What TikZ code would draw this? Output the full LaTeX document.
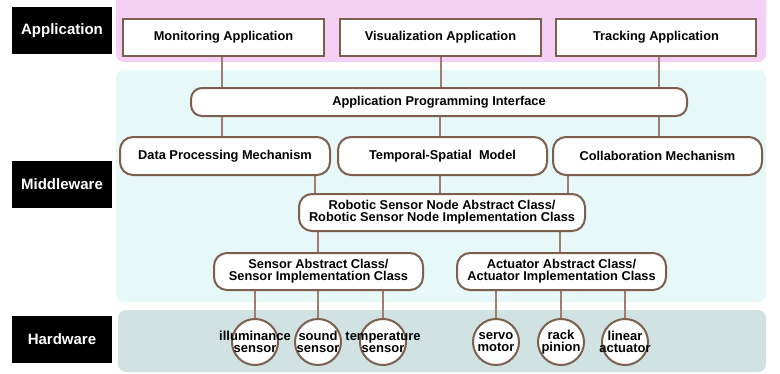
\documentclass[tikz,border=0pt]{standalone}
\usepackage{fontspec}
\setmainfont{Liberation Sans}
\usetikzlibrary{backgrounds}
\pgfdeclarelayer{bands}
\pgfdeclarelayer{links}
\pgfsetlayers{bands,links,main}
\definecolor{appband}{HTML}{F4D0F4}
\definecolor{midband}{HTML}{E6F8F8}
\definecolor{hwband}{HTML}{D0E2E2}
\definecolor{boxline}{HTML}{7D5F4D}
\definecolor{linkline}{HTML}{A27C6E}
\tikzset{
  layerlabel/.style={fill=black, text=white, minimum width=100pt, minimum height=47pt,
    inner sep=0pt, font=\fontsize{15}{16}\selectfont\bfseries},
  appbox/.style={draw=boxline, line width=2pt, fill=white, minimum height=37pt,
    inner sep=0pt, font=\fontsize{12.8}{13}\selectfont\bfseries},
  roundbox/.style={draw=boxline, line width=2pt, fill=white, rounded corners=13pt,
    minimum height=38pt, inner sep=0pt, align=center,
    font=\fontsize{12.8}{12}\selectfont\bfseries},
  devbox/.style={circle, draw=boxline, line width=2pt, fill=white, minimum size=46pt,
    inner sep=0pt},
  devtext/.style={inner sep=0pt, align=center, font=\fontsize{13}{12}\selectfont\bfseries},
  band/.style={rounded corners=8pt},
  conn/.style={draw=linkline, line width=2pt},
}
\begin{document}
\begin{tikzpicture}[x=1pt, y=-1pt]
\useasboundingbox (0,0) rectangle (780,373);

% layer bands
\begin{pgfonlayer}{bands}
  \fill[appband, band] (116,-10) rectangle (766,62);
  \fill[midband, band] (116,70) rectangle (766,302);
  \fill[hwband, band] (118,310) rectangle (766,372);
\end{pgfonlayer}

% layer labels
\node[layerlabel] (lapp) at (62,30.5) {Application};
\node[layerlabel] (lmid) at (62,184.5) {Middleware};
\node[layerlabel] (lhw) at (62,339.5) {Hardware};

% applications
\node[appbox, minimum width=201pt] (mon) at (223.5,37.5) {Monitoring Application};
\node[appbox, minimum width=201pt] (vis) at (440.5,37.5) {Visualization Application};
\node[appbox, minimum width=200pt] (trk) at (656,37.5) {Tracking Application};

% middleware
\node[roundbox, rounded corners=11pt, minimum width=496pt, minimum height=28pt] (api) at (439,102) {Application Programming Interface};
\node[roundbox, minimum width=210pt] (dpm) at (225,156) {Data Processing Mechanism};
\node[roundbox, minimum width=209pt] (tsm) at (442.5,156) {Temporal-Spatial\ \ Model};
\node[roundbox, minimum width=209pt] (col) at (657.5,156) {Collaboration Mechanism};
\node[roundbox, minimum width=286pt, minimum height=37pt] (rob) at (442,212.5) {Robotic Sensor Node Abstract Class/\\Robotic Sensor Node Implementation Class};
\node[roundbox, minimum width=209pt, minimum height=37pt] (sen) at (318.5,271.5) {Sensor Abstract Class/\\Sensor Implementation Class};
\node[roundbox, minimum width=209pt, minimum height=37pt] (act) at (561.5,271.5) {Actuator Abstract Class/\\Actuator Implementation Class};

% hardware devices: fixed-size circles, names set over them
\node[devbox] (ill) at (255,342) {};
\node[devbox] (snd) at (318,342) {};
\node[devbox] (tmp) at (383,342) {};
\node[devbox] (srv) at (496,342) {};
\node[devbox] (rck) at (561,342) {};
\node[devbox] (lin) at (625,342) {};
\node[devtext] (illt) at (ill) {illuminance\\sensor};
\node[devtext] (sndt) at (snd) {sound\\sensor};
\node[devtext] (tmpt) at (tmp) {temperature\\sensor};
\node[devtext] (srvt) at (srv) {servo\\motor};
\node[devtext] (rckt) at (rck) {rack\\pinion};
\node[devtext] (lint) at (lin) {linear\\actuator};

% connectors
\begin{pgfonlayer}{links}
  \draw[conn] (mon.center -| 222,0) -- (api.center -| 222,0);
  \draw[conn] (vis.center -| 441,0) -- (api.center -| 441,0);
  \draw[conn] (trk.center -| 659,0) -- (api.center -| 659,0);
  \draw[conn] (api.center -| 222,0) -- (dpm.center -| 222,0);
  \draw[conn] (api.center -| 440,0) -- (tsm.center -| 440,0);
  \draw[conn] (api.center -| 659,0) -- (col.center -| 659,0);
  \draw[conn] (dpm.center -| 315,0) -- (rob.center -| 315,0);
  \draw[conn] (tsm.center -| 440,0) -- (rob.center -| 440,0);
  \draw[conn] (col.center -| 568,0) -- (rob.center -| 568,0);
  \draw[conn] (rob.center -| 318,0) -- (sen.center -| 318,0);
  \draw[conn] (rob.center -| 560,0) -- (act.center -| 560,0);
  \draw[conn] (sen.center -| ill.center) -- (ill.center);
  \draw[conn] (sen.center -| snd.center) -- (snd.center);
  \draw[conn] (sen.center -| tmp.center) -- (tmp.center);
  \draw[conn] (act.center -| srv.center) -- (srv.center);
  \draw[conn] (act.center -| rck.center) -- (rck.center);
  \draw[conn] (act.center -| lin.center) -- (lin.center);
\end{pgfonlayer}
\end{tikzpicture}
\end{document}
